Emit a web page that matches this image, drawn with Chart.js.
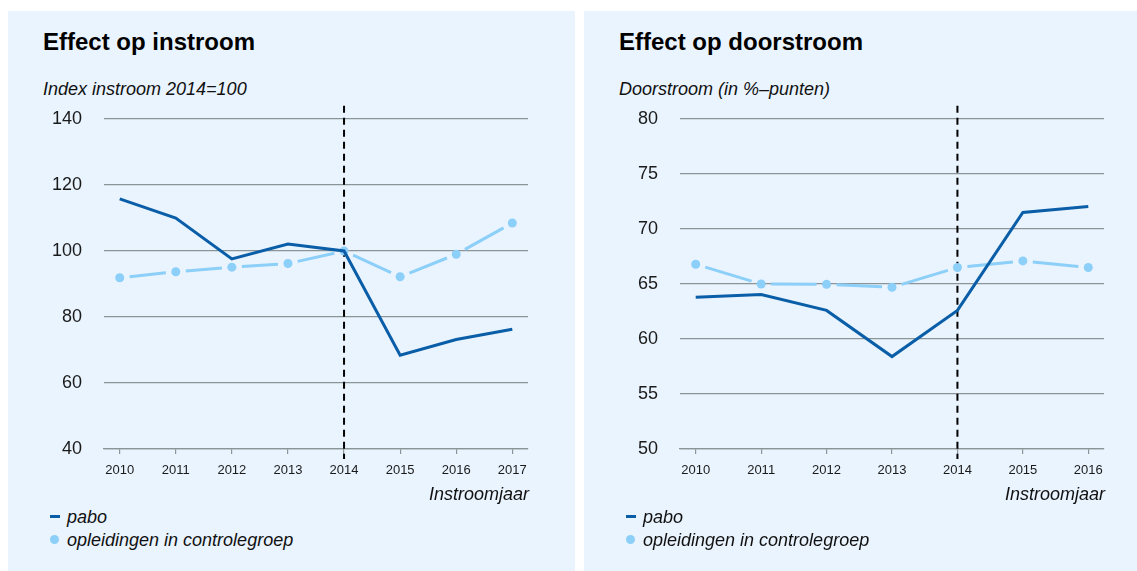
<!DOCTYPE html>
<html>
<head>
<meta charset="utf-8">
<script src="https://cdn.jsdelivr.net/npm/chart.js@4.4.1/dist/chart.umd.min.js"></script>
<style>
  body { margin: 0; width: 1137px; height: 571px; overflow: hidden; background: #fff;
         font-family: "Liberation Sans", Arial, sans-serif; color: #111; }
  .panel { position: absolute; top: 11px; width: 567px; height: 560px; background: #eaf4fe; }
  .title { position: absolute; left: 35px; top: 19px; font-size: 24px; line-height: 24px;
           font-weight: bold; white-space: nowrap; color: #000; }
  .subtitle { position: absolute; left: 35px; top: 69px; font-size: 18px; line-height: 18px;
              font-style: italic; white-space: nowrap; }
  .chartbox { position: absolute; left: 0; top: 85px; width: 567px; height: 400px; }
  .xtitle { position: absolute; right: 46px; top: 474px; font-size: 18px; line-height: 18px;
            font-style: italic; }
  .leg { position: absolute; left: 59px; font-size: 18px; line-height: 18px; font-style: italic;
         white-space: nowrap; }
  .mark-line { position: absolute; left: 42px; width: 10px; height: 3px; background: #0a5ea8; }
  .mark-dot { position: absolute; left: 42px; width: 9px; height: 9px; border-radius: 50%; background: #8ccff8; }
</style>
</head>
<body>

<div class="panel" style="left:8px">
  <div class="title">Effect op instroom</div>
  <div class="subtitle">Index instroom 2014=100</div>
  <div class="chartbox"><canvas id="chartInstroom"></canvas></div>
  <div class="xtitle">Instroomjaar</div>
  <div class="mark-line" style="top:504px"></div>
  <div class="leg" style="top:497px">pabo</div>
  <div class="mark-dot" style="top:524px"></div>
  <div class="leg" style="top:520px">opleidingen in controlegroep</div>
</div>

<div class="panel" style="left:584px">
  <div class="title">Effect op doorstroom</div>
  <div class="subtitle">Doorstroom (in %–punten)</div>
  <div class="chartbox"><canvas id="chartDoorstroom"></canvas></div>
  <div class="xtitle">Instroomjaar</div>
  <div class="mark-line" style="top:504px"></div>
  <div class="leg" style="top:497px">pabo</div>
  <div class="mark-dot" style="top:524px"></div>
  <div class="leg" style="top:520px">opleidingen in controlegroep</div>
</div>

<script>
const instroomYears = [2010, 2011, 2012, 2013, 2014, 2015, 2016, 2017];
const instroomPabo = [115.8, 110, 97.6, 102.1, 100, 68.4, 73.2, 76.3];
const instroomControle = [91.9, 93.7, 95.1, 96.2, 100, 92.2, 99, 108.5];
const instroomTicks = [40, 60, 80, 100, 120, 140];

const doorstroomYears = [2010, 2011, 2012, 2013, 2014, 2015, 2016];
const doorstroomPabo = [63.8, 64.05, 62.6, 58.4, 62.6, 71.5, 72.05];
const doorstroomControle = [66.8, 65.0, 64.97, 64.7, 66.5, 67.1, 66.5];
const doorstroomTicks = [50, 55, 60, 65, 70, 75, 80];

const breakYear = 2014;

const DARK = "#0a5ea8";
const LIGHT = "#8ccff8";
const GRID = "#8b9497";

// R-style "type b" line: segments stop short of each point
const gapLines = {
  id: "gapLines",
  beforeDatasetsDraw(chart) {
    const ctx = chart.ctx;
    chart.data.datasets.forEach((ds, i) => {
      if (!ds.gap) return;
      const pts = chart.getDatasetMeta(i).data;
      ctx.save();
      ctx.strokeStyle = ds.borderColor;
      ctx.lineWidth = 3;
      ctx.lineCap = "butt";
      for (let k = 1; k < pts.length; k++) {
        const a = pts[k - 1], b = pts[k];
        const dx = b.x - a.x, dy = b.y - a.y;
        const len = Math.hypot(dx, dy);
        if (len <= ds.gap * 2) continue;
        const ux = dx / len, uy = dy / len;
        ctx.beginPath();
        ctx.moveTo(a.x + ux * ds.gap, a.y + uy * ds.gap);
        ctx.lineTo(b.x - ux * ds.gap, b.y - uy * ds.gap);
        ctx.stroke();
      }
      ctx.restore();
    });
  }
};

// dashed vertical line at the policy year, running a bit past the plot range
const breakLine = {
  id: "breakLine",
  beforeDatasetsDraw(chart, args, opts) {
    const { ctx, scales: { x, y } } = chart;
    const px = x.getPixelForValue(breakYear);
    ctx.save();
    ctx.strokeStyle = "#000";
    ctx.lineWidth = 2;
    ctx.setLineDash([7, 5]);
    ctx.beginPath();
    ctx.moveTo(px, y.getPixelForValue(opts.top));
    ctx.lineTo(px, y.getPixelForValue(opts.bottom));
    ctx.stroke();
    ctx.restore();
  }
};

function makeChart(id, years, pabo, controle, ticks) {
  const xPad = (years[years.length - 1] - years[0]) * 0.04;
  const yMin = ticks[0], yMax = ticks[ticks.length - 1];
  const yExt = (yMax - yMin) * 0.04;

  return new Chart(document.getElementById(id), {
    type: "line",
    data: {
      datasets: [
        {
          label: "pabo",
          data: years.map((yr, i) => ({ x: yr, y: pabo[i] })),
          borderColor: DARK,
          borderWidth: 3,
          pointRadius: 0,
          tension: 0
        },
        {
          label: "opleidingen in controlegroep",
          data: years.map((yr, i) => ({ x: yr, y: controle[i] })),
          borderColor: LIGHT,
          backgroundColor: LIGHT,
          showLine: false,
          gap: 10,
          pointRadius: 4.5,
          pointBorderWidth: 0
        }
      ]
    },
    options: {
      responsive: true,
      maintainAspectRatio: false,
      animation: false,
      events: [],
      layout: { padding: { left: 0, right: 47, top: 23, bottom: 0 } },
      plugins: {
        legend: { display: false },
        tooltip: { enabled: false },
        breakLine: { top: yMax + yExt, bottom: yMin - yExt * 0.75 }
      },
      scales: {
        x: {
          type: "linear",
          min: years[0] - xPad,
          max: years[years.length - 1] + xPad,
          afterBuildTicks: s => { s.ticks = years.map(v => ({ value: v })); },
          afterFit: s => { s.height = 47; },
          grid: { display: true, drawOnChartArea: false, drawTicks: true, tickLength: 5,
                  color: GRID, lineWidth: 1.2 },
          border: { display: true, color: GRID, width: 1.2 },
          ticks: { font: { size: 13, family: "Liberation Sans" }, color: "#1a1a1a", padding: 9,
                   maxRotation: 0, autoSkip: false, callback: v => String(v) }
        },
        y: {
          min: yMin,
          max: yMax,
          afterBuildTicks: s => { s.ticks = ticks.map(v => ({ value: v })); },
          afterFit: s => { s.width = 96; s.paddingTop = 0; s.paddingBottom = 0; },
          grid: { color: GRID, lineWidth: 1.2, drawTicks: false },
          border: { display: false },
          ticks: { font: { size: 18, family: "Liberation Sans" }, color: "#1a1a1a", padding: 22 }
        }
      }
    },
    plugins: [breakLine, gapLines]
  });
}

makeChart("chartInstroom", instroomYears, instroomPabo, instroomControle, instroomTicks);
makeChart("chartDoorstroom", doorstroomYears, doorstroomPabo, doorstroomControle, doorstroomTicks);
</script>
</body>
</html>
